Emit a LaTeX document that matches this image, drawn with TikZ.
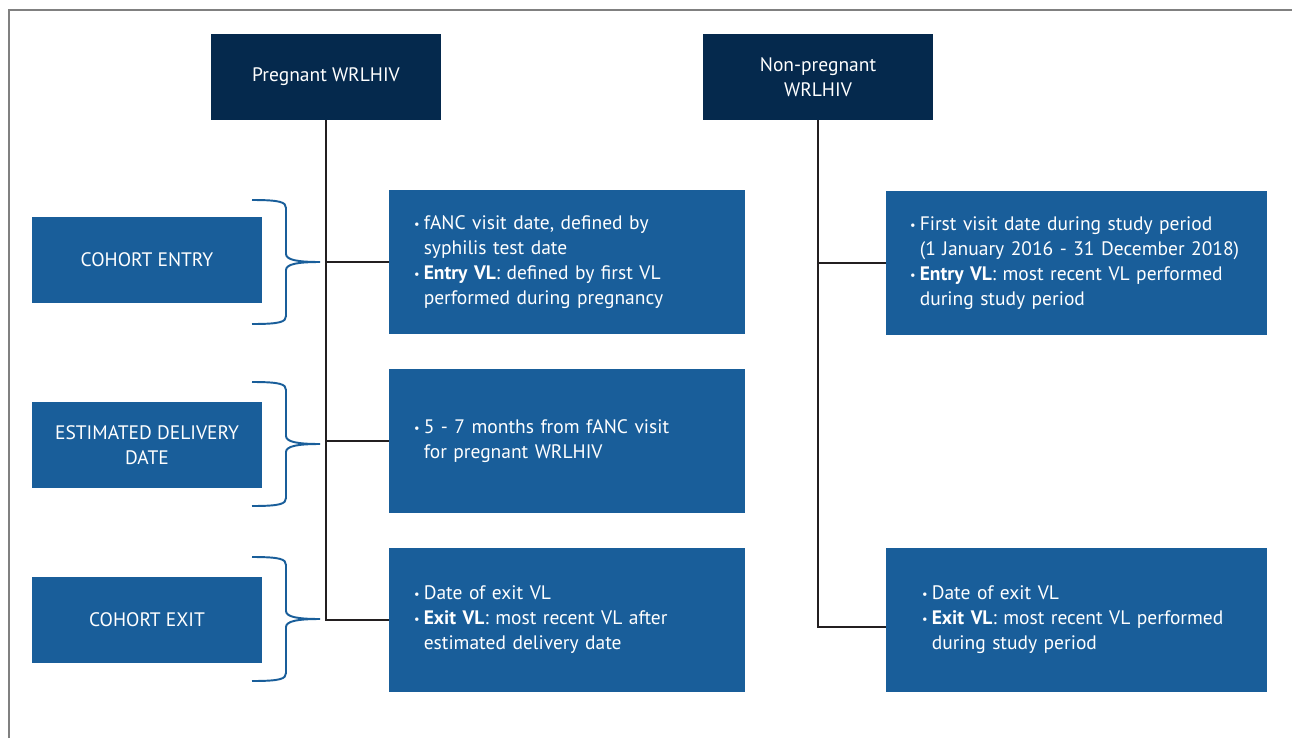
\documentclass[tikz,border=0pt]{standalone}
\usepackage{fontspec}
\setmainfont{PT Sans}
\usetikzlibrary{positioning}
\definecolor{navy}{RGB}{5,41,77}
\definecolor{boxblue}{RGB}{25,94,154}
\definecolor{framegray}{RGB}{128,128,128}
\definecolor{linegray}{RGB}{35,31,32}
\newcommand{\bul}{\makebox[0.5em][l]{\raisebox{0.1ex}{\scriptsize\textbullet}}}
\newcommand{\cont}{\hspace*{0.5em}}

\begin{document}
\begin{tikzpicture}[x=0.02cm,y=-0.02cm,
			every node/.style={
				text=white,
				inner sep=0pt,
				font=\fontsize{11.1}{14.2}\selectfont
			},
			head/.style={fill=navy,minimum width=4.6cm,minimum height=1.72cm,align=center},
			stage/.style={fill=boxblue,minimum width=4.6cm,minimum height=1.72cm,align=center},
			info/.style={fill=boxblue,minimum height=2.88cm,text width=7.12cm,align=left,
				execute at begin node={\leftskip=0.5cm\hyphenpenalty=10000\relax}},
			infor/.style={fill=boxblue,minimum height=2.88cm,text width=7.62cm,align=left,
				execute at begin node={\leftskip=#1\hyphenpenalty=10000\relax}},
			infor/.default=0.48cm,
			conn/.style={draw=linegray,line width=0.8pt},
			brace/.style={draw=boxblue,line width=1.1pt}]
			
			\useasboundingbox (0,0) rectangle (1292,738);
			
			\draw[framegray,line width=0.85pt](9,738)--(9,10)--(1292,10);
			
			\node(preg)[head] at (326,77){Pregnant WRLHIV};
			
			\node(npreg)[head] at (818,77){Non-pregnant\\WRLHIV};
			
			\node(entry)[stage] at (147,260){COHORT ENTRY};
			
			\node(deliv)[stage] at (147,445){ESTIMATED DELIVERY\\DATE};
			
			\node(cexit)[stage] at (147,620){COHORT EXIT};
			
			\node(pentry)[info] at (567,262){\bul fANC visit date, defined by\\
				\cont syphilis test date\\
				\bul\textbf{Entry VL}: defined by first VL\\
				\cont performed during pregnancy};
			
			\node(pdeliv)[info] at (567,441){\bul 5 - 7 months from fANC visit\\
				\cont for pregnant WRLHIV};
			
			\node(pexit)[info] at (567,620){\bul Date of exit VL\\
				\bul\textbf{Exit VL}: most recent VL after\\
				\cont estimated delivery date};
			
			\node(nentry)[infor] at (1076.5,263){\bul First visit date during study period\\
				\cont(1 January 2016 - 31 December 2018)\\
				\bul\textbf{Entry VL}: most recent VL performed\\
				\cont during study period};
			
			\node(nexit)[infor=0.72cm] at (1076.5,620){\bul Date of exit VL\\
				\bul\textbf{Exit VL}: most recent VL performed\\
				\cont during study period};
			
			\draw[conn](preg.south)|-(pexit.west);
			
			\draw[conn](preg.south|-pentry.west)--(pentry.west);
			
			\draw[conn](preg.south|-pdeliv.west)--(pdeliv.west);
			
			\draw[conn](npreg.south)|-([yshift=-0.14cm]nexit.west);
			
			\draw[conn](npreg.south|-nentry.west)--(nentry.west);
			
			% curly braces next to the stage boxes
			\foreach \yc in {262,444,619}
			\draw[brace](252,\yc-62) .. controls (280,\yc-62) and (286,\yc-60) .. (286,\yc-54)
				--(286,\yc-8) .. controls (286,\yc-2) and (298,\yc) .. (320,\yc)
				.. controls (298,\yc) and (286,\yc+2) .. (286,\yc+8)
				--(286,\yc+54) .. controls (286,\yc+60) and (280,\yc+62) .. (252,\yc+62);
			
		\end{tikzpicture}
\end{document}
